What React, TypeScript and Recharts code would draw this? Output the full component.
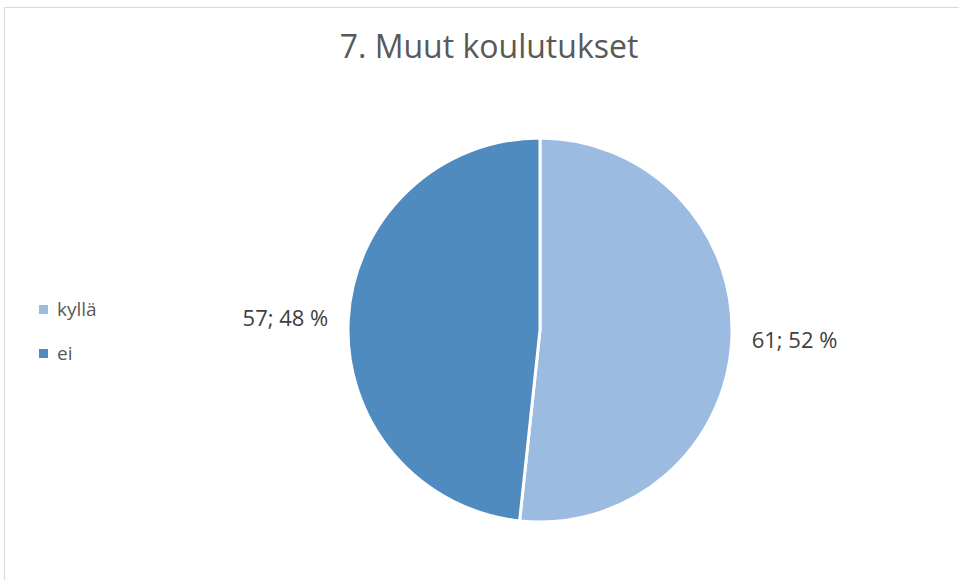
import { PieChart, Pie, Cell } from "recharts";

const categories = ["kyllä", "ei"];
const counts = [61, 57];
const colors = ["#9BBBE0", "#4F8BBF"];

const data = categories.map((name, i) => ({ name, value: counts[i] }));

const RAD = Math.PI / 180;
const FONT = "'Open Sans', sans-serif";

const renderLabel = (props: any) => {
  const { cx, cy, midAngle, outerRadius, value, percent } = props;
  const r = outerRadius + 20;
  const x = cx + r * Math.cos(-midAngle * RAD);
  const y = cy + r * Math.sin(-midAngle * RAD);
  return (
    <text
      x={x}
      y={y}
      dy={7}
      textAnchor={x > cx ? "start" : "end"}
      fill="#404040"
      fontSize={22}
      fontFamily={FONT}
    >
      {`${value}; ${Math.round(percent * 100)} %`}
    </text>
  );
};

export default function App() {
  return (
    <div
      style={{
        position: "fixed",
        left: 0,
        top: 0,
        width: 959,
        height: 580,
        background: "#fff",
        overflow: "hidden",
      }}
    >
      <div
        style={{
          position: "absolute",
          left: 4,
          top: 7,
          width: 1000,
          height: 700,
          border: "1px solid #d9d9d9",
        }}
      />
      <div
        style={{
          position: "absolute",
          left: 0,
          top: 24,
          width: 978,
          textAlign: "center",
          fontFamily: FONT,
          fontSize: 32,
          color: "#595959",
        }}
      >
        7. Muut koulutukset
      </div>
      {/* legend */}
      <div
        style={{
          position: "absolute",
          left: 39,
          top: 287,
          fontFamily: FONT,
          fontSize: 19,
          color: "#595959",
        }}
      >
        {categories.map((c, i) => (
          <div key={c} style={{ display: "flex", alignItems: "center", height: 44 }}>
            <span
              style={{
                width: 9,
                height: 9,
                background: colors[i],
                display: "inline-block",
                marginRight: 9,
              }}
            />
            {c}
          </div>
        ))}
      </div>
      <div style={{ position: "absolute", left: 0, top: 0 }}>
        <PieChart width={959} height={580}>
          <Pie
            data={data}
            dataKey="value"
            nameKey="name"
            cx={535}
            cy={325}
            outerRadius={192}
            startAngle={90}
            endAngle={-270}
            stroke="#ffffff"
            strokeWidth={3}
            label={renderLabel}
            labelLine={false}
            isAnimationActive={false}
          >
            {data.map((d, i) => (
              <Cell key={d.name} fill={colors[i]} />
            ))}
          </Pie>
        </PieChart>
      </div>
    </div>
  );
}
